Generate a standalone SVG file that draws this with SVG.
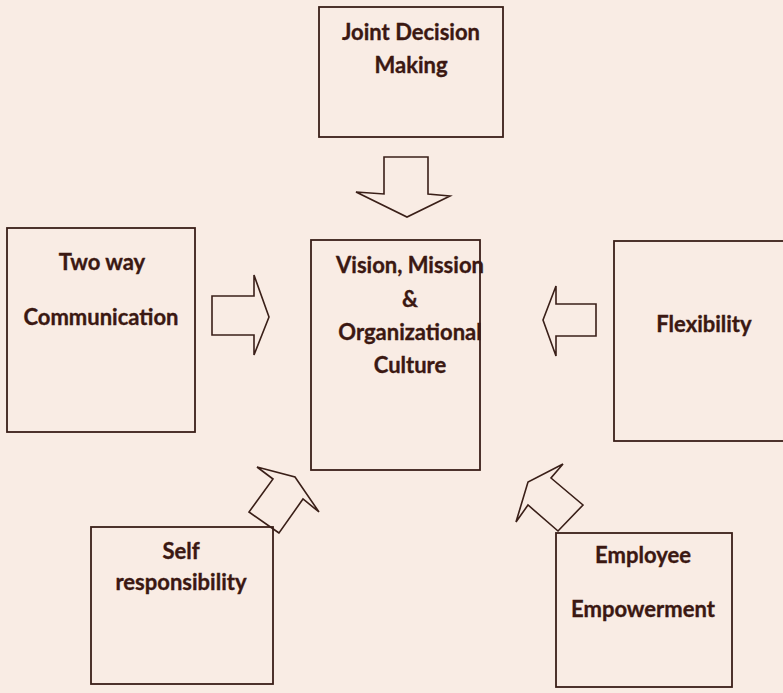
<svg xmlns="http://www.w3.org/2000/svg" width="783" height="693" viewBox="0 0 783 693">
<style>
.box{fill:none;stroke:#3a1f18;stroke-width:1.8}
.arr{fill:none;stroke:#3a1f18;stroke-width:1.6;stroke-linejoin:miter}
.t{font-family:Lato,"Open Sans","Liberation Sans",sans-serif;font-weight:bold;font-size:22px;fill:#3b1812;stroke:#3b1812;stroke-width:0.35;text-anchor:middle}
</style>
<rect x="0" y="0" width="783" height="693" fill="#f9ece4"/>
<g id="joint-decision">
<rect class="box" x="319" y="7" width="184" height="130"/>
<text class="t" x="411" y="40">Joint Decision</text>
<text class="t" x="411" y="73">Making</text>
</g>
<g id="vision">
<rect class="box" x="311" y="240" width="169" height="230"/>
<text class="t" x="410" y="273">Vision, Mission</text>
<text class="t" x="410" y="307">&amp;</text>
<text class="t" x="410" y="340">Organizational</text>
<text class="t" x="410" y="373">Culture</text>
</g>
<g id="two-way">
<rect class="box" x="7" y="228" width="188" height="204"/>
<text class="t" x="102" y="270">Two way</text>
<text class="t" x="101" y="325">Communication</text>
</g>
<g id="flexibility">
<rect class="box" x="614" y="241" width="180" height="200"/>
<text class="t" x="704" y="332">Flexibility</text>
</g>
<g id="self-responsibility">
<rect class="box" x="91" y="527" width="182" height="157"/>
<text class="t" x="181" y="559">Self</text>
<text class="t" x="181" y="590">responsibility</text>
</g>
<g id="employee-empowerment">
<rect class="box" x="556" y="533" width="176" height="154"/>
<text class="t" x="643" y="563">Employee</text>
<text class="t" x="643" y="617">Empowerment</text>
</g>
<g id="connectors">
<polygon class="arr" points="384,157 428,157 428,194 450,196 407,217 356,192 384,194"/>
<polygon class="arr" points="212,296 254,296 254,275 269,317 254,355 254,335 212,335"/>
<polygon class="arr" points="596,304 556,304 556,286 543,320 556,356 556,336 596,336"/>
<polygon class="arr" points="279,533 249,512 273,479 257,467 295,477 319,512 303,499"/>
<polygon class="arr" points="558,531 583,505 551,478 563,464 528,482 516,522 528,505"/>
</g>
</svg>
